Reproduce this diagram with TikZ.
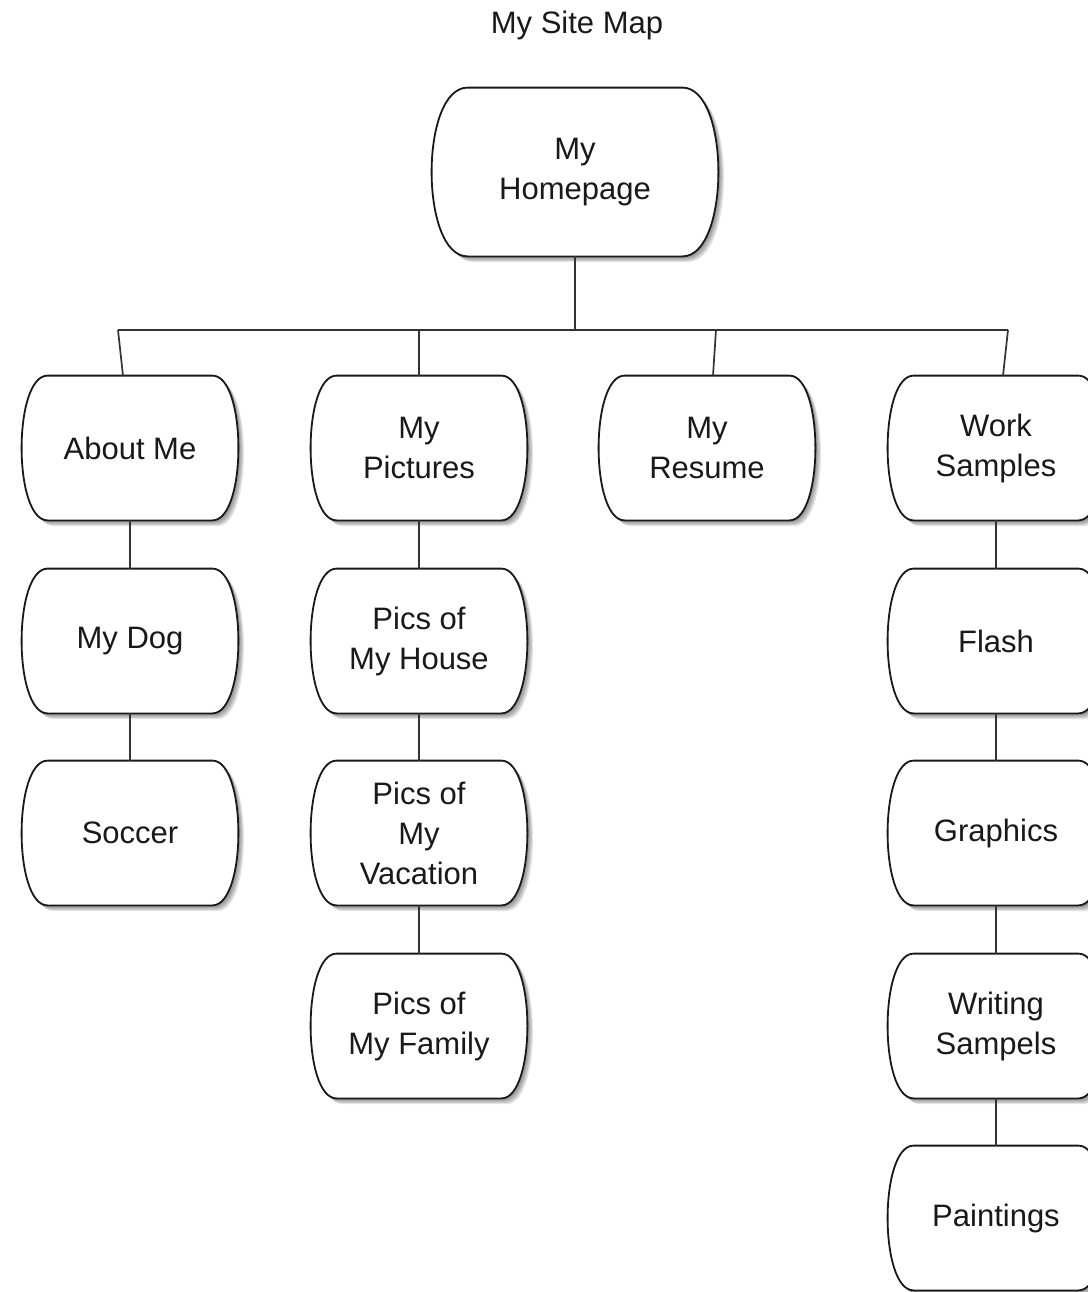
\documentclass[tikz,border=0pt]{standalone}
\usepackage{fontspec}
\setmainfont{Liberation Sans}
\usetikzlibrary{calc,backgrounds}
\newcommand\pgshape[5]{%
  \path[#5] ([xshift=#2+#3,yshift=#4]#1.north west) -- ([xshift=-#2+#3,yshift=#4]#1.north east)
    .. controls ([xshift=#2/3+#3,yshift=#4]#1.north east) and ([xshift=#2/3+#3,yshift=#4]#1.south east) ..
    ([xshift=-#2+#3,yshift=#4]#1.south east) -- ([xshift=#2+#3,yshift=#4]#1.south west)
    .. controls ([xshift=-#2/3+#3,yshift=#4]#1.south west) and ([xshift=-#2/3+#3,yshift=#4]#1.north west) .. cycle;}
\begin{document}
\begin{tikzpicture}[x=0.5pt,y=-0.5pt,
  txt/.style={font=\fontsize{15.5}{20}\selectfont, text=black!90},
  pg/.style={txt, align=center, inner sep=0pt, minimum width=108pt, minimum height=72pt},
  homepg/.style={pg, minimum width=143pt, minimum height=84pt},
  conn/.style={draw=black!80, line width=0.85pt},
  outline/.style={draw=black!90, line width=0.9pt, fill=white},
  shadowc/.style={fill=black, opacity=0.11}]
\useasboundingbox (0,0) rectangle (1088,1292);

\node[txt] (title) at (577,25) {My Site Map};

\node[homepg] (home) at (575,172) {My\\Homepage};

\node[pg] (about)  at (130,448) {About Me};
\node[pg] (pics)   at (419,448) {My\\Pictures};
\node[pg] (resume) at (707,448) {My\\Resume};
\node[pg] (work)   at (996,448) {Work\\Samples};

\node[pg] (dog)    at (130,641) {My Dog};
\node[pg] (soccer) at (130,833) {Soccer};

\node[pg] (house)  at (419,641) {Pics of\\My House};
\node[pg] (vac)    at (419,833) {Pics of\\My\\Vacation};
\node[pg] (fam)    at (419,1026) {Pics of\\My Family};

\node[pg] (flash)    at (996,641) {Flash};
\node[pg] (graphics) at (996,833) {Graphics};
\node[pg] (writing)  at (996,1026) {Writing\\Sampels};
\node[pg] (paint)    at (996,1218) {Paintings};

\begin{scope}[on background layer]
  \fill[white] (0,0) rectangle (1088,1292);
  \foreach \n/\bb in {home/18pt,about/13pt,pics/13pt,resume/13pt,work/13pt,dog/13pt,soccer/13pt,house/13pt,vac/13pt,fam/13pt,flash/13pt,graphics/13pt,writing/13pt,paint/13pt}{
    \foreach \s in {1pt,1.6pt,2.2pt,2.8pt}{
      \pgshape{\n}{\bb}{\s}{-\s}{shadowc}
    }
    \pgshape{\n}{\bb}{0pt}{0pt}{outline}
  }
\end{scope}

\coordinate (hub) at (575,330);
\coordinate (bL)  at (118,330);
\coordinate (bP)  at (419,330);
\coordinate (bRe) at (716,330);
\coordinate (bR)  at (1008,330);

\draw[conn] (home.south) -- (hub);
\draw[conn] (bL) -- (bR);
\draw[conn] (bL) -- ([xshift=-3.5pt]about.north);
\draw[conn] (bP) -- (pics.north);
\draw[conn] (bRe) -- ([xshift=3pt]resume.north);
\draw[conn] (bR) -- ([xshift=3.5pt]work.north);

\draw[conn] (about.south) -- (dog.north);
\draw[conn] (dog.south) -- (soccer.north);
\draw[conn] (pics.south) -- (house.north);
\draw[conn] (house.south) -- (vac.north);
\draw[conn] (vac.south) -- (fam.north);
\draw[conn] (work.south) -- (flash.north);
\draw[conn] (flash.south) -- (graphics.north);
\draw[conn] (graphics.south) -- (writing.north);
\draw[conn] (writing.south) -- (paint.north);
\end{tikzpicture}
\end{document}
